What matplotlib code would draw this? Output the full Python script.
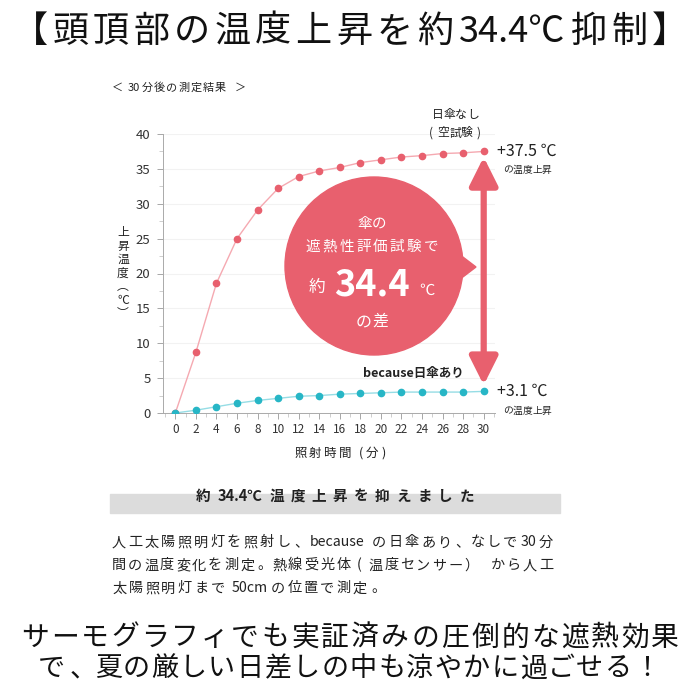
import matplotlib
matplotlib.use('Agg')
import matplotlib.pyplot as plt
from matplotlib.patches import Circle, Polygon, Rectangle
from matplotlib.ticker import MultipleLocator

plt.rcParams['font.family'] = ['Noto Sans CJK JP', 'DejaVu Sans']

# data
minutes = [0, 2, 4, 6, 8, 10, 12, 14, 16, 18, 20, 22, 24, 26, 28, 30]
no_parasol = [0, 8.7, 18.6, 25.0, 29.1, 32.2, 33.9, 34.7, 35.2, 35.9, 36.3, 36.7, 36.9, 37.2, 37.3, 37.5]
with_parasol = [0, 0.4, 0.9, 1.4, 1.8, 2.1, 2.4, 2.5, 2.7, 2.8, 2.9, 3.0, 3.0, 3.0, 3.0, 3.1]
xticks = list(range(0, 31, 2))
yticks = list(range(0, 41, 5))

red = '#e8606e'
red_line = '#f5a9b1'
blue = '#27b6c6'
blue_line = '#96dde5'
txt = '#222222'

fig = plt.figure(figsize=(7, 7), dpi=100)
W = H = 700.0
renderer = fig.canvas.get_renderer()


def fx(px):
    return px / W


def fy(py):
    return 1 - py / H


def is_narrow(ch):
    return ord(ch) < 128 or ch == '℃'


def split_tokens(s):
    toks = []
    run = ''
    for ch in s:
        if is_narrow(ch):
            run += ch
        else:
            if run:
                toks.append(run)
                run = ''
            toks.append(ch)
    if run:
        toks.append(run)
    return toks


def spaced(x, y, s, size, track=0.0, width=None, ha='left', **kw):
    # full-width chars sit in em cells, narrow runs keep their own width;
    # extra spacing (pixels) goes between cells
    em = size * 100 / 72.0
    base = fy(y + 0.38 * em)
    items = []
    for tok in split_tokens(s):
        if not is_narrow(tok[0]):
            if tok in '、。':
                t = fig.text(0, base, tok, fontsize=size, ha='left', va='baseline', **kw)
                items.append((t, em, 'p', 0))
            else:
                t = fig.text(0, base, tok, fontsize=size, ha='center', va='baseline', **kw)
                items.append((t, em, 'c', 0))
        else:
            core = tok.strip()
            lead = (len(tok) - len(tok.lstrip())) * em * 0.3
            trail = (len(tok) - len(tok.rstrip())) * em * 0.3
            if core:
                t = fig.text(0, base, core, fontsize=size, ha='left', va='baseline', **kw)
                w = t.get_window_extent(renderer).width + em * 0.08
            else:
                t, w = None, 0
            items.append((t, lead + w + trail, 'a', lead))
    n = len(items)
    natural = sum(it[1] for it in items)
    if width is not None and n > 1:
        track = (width - natural) / (n - 1)
    total = natural + track * (n - 1)
    cur = x if ha == 'left' else x - total / 2.0
    for t, w, kind, lead in items:
        if t is not None:
            if kind == 'c':
                t.set_x(fx(cur + w / 2.0))
            elif kind == 'p':
                t.set_x(fx(cur + em * 0.12))
            else:
                t.set_x(fx(cur + lead + em * 0.04))
        cur += w + track
    return track


ax = fig.add_axes([fx(163), fy(413), fx(495) - fx(163), fy(134) - fy(413)])
ax.set_xlim(-1.2, 31.1)
ax.set_ylim(0, 40)

ax.plot(minutes, no_parasol, color=red_line, lw=1.0, zorder=3)
ax.plot(minutes, no_parasol, 'o', color=red, ms=4.5, zorder=4)
ax.plot(minutes, with_parasol, color=blue_line, lw=1.0, zorder=3)
ax.plot(minutes, with_parasol, 'o', color=blue, ms=4.5, zorder=4)

ax.set_xticks(xticks)
ax.set_yticks(yticks)
ax.xaxis.set_minor_locator(MultipleLocator(1))
ax.yaxis.set_minor_locator(MultipleLocator(2.5))
ax.tick_params(axis='both', colors='#999999', labelcolor='#333333', length=4, width=0.6)
ax.tick_params(axis='x', labelsize=8.5)
ax.tick_params(axis='y', labelsize=9.5, pad=5)
ax.tick_params(axis='both', which='minor', colors='#bbbbbb', length=3, width=0.5)
for s in ['top', 'right']:
    ax.spines[s].set_visible(False)
for s in ['left', 'bottom']:
    ax.spines[s].set_color('#aaaaaa')
    ax.spines[s].set_linewidth(0.7)
ax.grid(axis='y', color='#f2f2f2', lw=0.8)
ax.set_axisbelow(True)

# double arrow between the end values
ax.annotate('', xy=(30, no_parasol[-1] - 0.8), xytext=(30, with_parasol[-1] + 0.9),
            arrowprops=dict(arrowstyle='<|-|>,head_length=1.7,head_width=0.85',
                            color=red, lw=4.5, shrinkA=0, shrinkB=0), zorder=5)

# speech bubble
cx, cy, r = 374, 266, 89
tx = 372
fig.patches.append(Circle((fx(cx), fy(cy)), r / W, transform=fig.transFigure,
                          color=red, zorder=2))
fig.patches.append(Polygon([(fx(455), fy(251)), (fx(476), fy(267)), (fx(455), fy(283))],
                           closed=True, transform=fig.transFigure, color=red, zorder=2))
spaced(tx, 222, '傘の', 10.5, ha='center', color='white', zorder=6)
spaced(tx, 245, '遮熱性評価試験で', 10.5, width=132, ha='center', color='white', zorder=6)
fig.text(fx(317), fy(287), '約', color='white', fontsize=12, ha='center', va='center', zorder=6)
fig.text(fx(372), fy(285), '34.4', color='white', fontsize=26, fontweight='bold',
         ha='center', va='center', zorder=6)
fig.text(fx(427), fy(290), '℃', color='white', fontsize=11, ha='center', va='center', zorder=6)
spaced(tx, 320, 'の差', 11.5, ha='center', color='white', zorder=6)

# annotations around the chart
spaced(112, 87, '＜ 30分後の測定結果 ＞', 8, width=134, color=txt)
spaced(455, 114, '日傘なし', 8.5, ha='center', color=txt)
spaced(455, 132, '( 空試験 )', 8.5, ha='center', color=txt)
fig.text(fx(497), fy(151), '+37.5 ℃', color=txt, fontsize=11.5, ha='left', va='center')
spaced(503, 169, 'の温度上昇', 7, color=txt)
fig.text(fx(497), fy(391), '+3.1 ℃', color=txt, fontsize=11.5, ha='left', va='center')
spaced(503, 410, 'の温度上昇', 7, color=txt)
fig.text(fx(464), fy(374), 'because日傘あり', color=txt, fontsize=9, fontweight='bold',
         ha='right', va='center')
fig.text(fx(123), fy(273), '上\n昇\n温\n度\n︵\n℃\n︶', color=txt, fontsize=8.5,
         ha='center', va='center', linespacing=1.05)
spaced(340, 452, '照射時間 (分)', 9, track=2.5, ha='center', color=txt)

# headline
spaced(350, 28, '【頭頂部の温度上昇を約34.4℃抑制】', 26, width=676, ha='center',
       color='#111111')

# grey band with summary
fig.patches.append(Rectangle((fx(110), fy(513)), fx(560) - fx(110), (fy(494) - fy(513)),
                             transform=fig.transFigure, color='#dcdcdc', zorder=1))
spaced(335, 495, '約34.4℃温度上昇を抑えました', 10.5, width=278, ha='center', color=txt,
       fontweight='bold', zorder=3)

body = ['人工太陽照明灯を照射し、because の日傘あり、なしで30分',
        '間の温度変化を測定。熱線受光体 ( 温度センサー） から人工',
        '太陽照明灯まで 50cmの位置で測定。']
tr = spaced(112, 541, body[0], 10.2, width=441, color=txt)
spaced(112, 564, body[1], 10.2, width=441, color=txt)
spaced(112, 587, body[2], 10.2, track=tr, color=txt)

spaced(350, 635, 'サーモグラフィでも実証済みの圧倒的な遮熱効果', 20, width=658,
       ha='center', color='#111111')
spaced(349, 666, 'で、夏の厳しい日差しの中も涼やかに過ごせる！', 19.5, width=622,
       ha='center', color='#111111')

fig.savefig('out.png', dpi=100)
